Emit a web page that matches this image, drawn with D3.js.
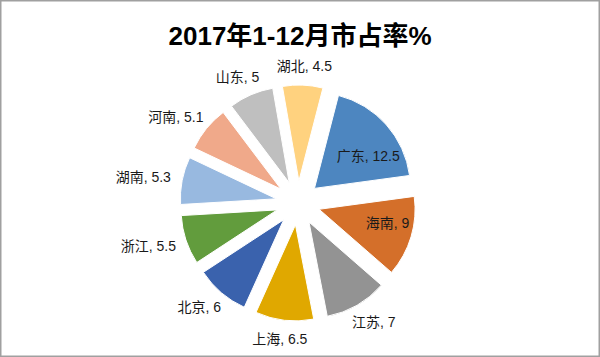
<!DOCTYPE html>
<html><head><meta charset="utf-8">
<script src="https://cdn.jsdelivr.net/npm/d3@7"></script>
<style>html,body{margin:0;padding:0;background:#fff;}svg{display:block;}</style>
</head><body>
<svg id="chart" width="600" height="357"></svg>
<script>
const title = "2017年1-12月市占率%";
const categories = ["广东","海南","江苏","上海","北京","浙江","湖南","河南","山东","湖北"];
const values = [12.5, 9, 7, 6.5, 6, 5.5, 5.3, 5.1, 5, 4.5];
const colors = ["#4d86c0","#d46f2a","#939393","#e0a800","#3a62ad","#629c3d","#98b9e0","#f0a98a","#bfbfbf","#ffd27f"];
const insideLabels = ["广东","海南"];

const W = 600, H = 357;
const cx = 298, cy = 203, R = 96, explode = 22;
const startDeg = 14.5;

const svg = d3.select("#chart");
svg.append("rect").attr("x",0.75).attr("y",0.75).attr("width",W-1.5).attr("height",H-1.5)
  .attr("fill","#fff").attr("stroke","#a0a0a0").attr("stroke-width",1.5);

svg.append("text").attr("x",300).attr("y",45).attr("text-anchor","middle")
  .attr("font-family","'Liberation Sans','Noto Sans CJK SC',sans-serif")
  .attr("font-weight","bold").attr("font-size",26).attr("fill","#000").text(title);

const data = categories.map((c,i)=>({name:c, value:values[i], color:colors[i]}));
const pie = d3.pie().value(d=>d.value).sort(null)
  .startAngle(startDeg*Math.PI/180).endAngle((startDeg+360)*Math.PI/180);
const arcs = pie(data);
const arc = d3.arc().innerRadius(0).outerRadius(R);

const g = svg.append("g").attr("transform",`translate(${cx},${cy})`);
const slices = g.selectAll("g.slice").data(arcs).enter().append("g").attr("class","slice")
  .attr("transform", d=>{
    const m=(d.startAngle+d.endAngle)/2;
    return `translate(${explode*Math.sin(m)},${-explode*Math.cos(m)})`;
  });
slices.append("path").attr("d",arc).attr("fill",d=>d.data.color)
  .attr("stroke","#fff").attr("stroke-width",1);

const font = "'Liberation Sans','Noto Sans CJK SC',sans-serif";
const fs = 14;
arcs.forEach(d=>{
  const m=(d.startAngle+d.endAngle)/2;
  const s=Math.sin(m), c=Math.cos(m);
  const label = `${d.data.name}, ${d.data.value}`;
  const t = g.append("text").attr("font-family",font).attr("font-size",fs).attr("fill","#1a1a1a")
    .attr("text-anchor","middle").text(label);
  const w = t.node().getComputedTextLength(), h = 14;
  let x, y;
  if (insideLabels.includes(d.data.name)) {
    const ox = explode*s, oy = -explode*c;
    const a = Math.PI/2 + (m - Math.PI/2)*0.5;
    t.attr("text-anchor","end");
    x = ox + 0.95*R*Math.sin(a); y = oy - 0.95*R*Math.cos(a);
  } else {
    const Rl = R + explode + 12;
    x = Rl*s + s*w/2; y = -Rl*c - c*h/2;
  }
  t.attr("x",x).attr("y",y + fs*0.36);
});
</script>
</body></html>
